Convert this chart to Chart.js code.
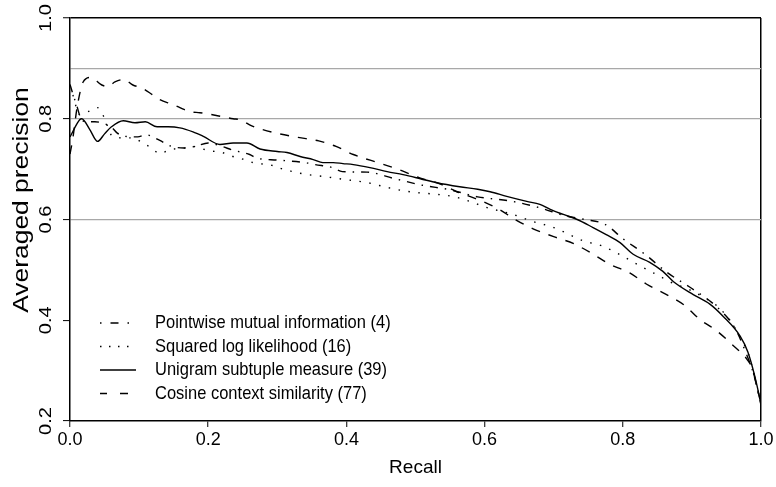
<!DOCTYPE html>
<html>
<head>
<meta charset="utf-8">
<script src="https://cdn.jsdelivr.net/npm/chart.js@4.4.0/dist/chart.umd.min.js"></script>
<style>html,body{margin:0;background:#fff}</style>
</head>
<body>
<canvas id="prChart" width="776" height="487"></canvas>
<script>
const FONT = "'Liberation Sans', Arial, sans-serif";

const seriesNames = [
    "Pointwise mutual information (4)",
    "Squared log likelihood (16)",
    "Unigram subtuple measure (39)",
    "Cosine context similarity (77)"
];

// recall / averaged precision
const pmiRecall = [0, 0.004, 0.01, 0.016, 0.025, 0.036, 0.05, 0.061, 0.068, 0.08, 0.098, 0.11, 0.13, 0.145, 0.165, 0.181, 0.2, 0.22, 0.235, 0.26, 0.27, 0.3, 0.34, 0.355, 0.38, 0.394, 0.43, 0.47, 0.51, 0.55, 0.59, 0.636, 0.678, 0.718, 0.745, 0.775, 0.8, 0.832, 0.865, 0.9, 0.934, 0.962, 0.978, 0.99, 1.0];
const pmiPrecision = [0.868, 0.85, 0.825, 0.80, 0.794, 0.794, 0.79, 0.782, 0.772, 0.765, 0.764, 0.768, 0.757, 0.746, 0.742, 0.745, 0.752, 0.745, 0.738, 0.729, 0.722, 0.718, 0.713, 0.709, 0.703, 0.695, 0.694, 0.681, 0.668, 0.659, 0.645, 0.637, 0.624, 0.607, 0.60, 0.59, 0.562, 0.531, 0.494, 0.463, 0.429, 0.385, 0.336, 0.29, 0.232];

const sqRecall = [0, 0.004, 0.014, 0.026, 0.04, 0.049, 0.061, 0.077, 0.091, 0.105, 0.117, 0.13, 0.145, 0.162, 0.178, 0.2, 0.22, 0.236, 0.25, 0.265, 0.294, 0.308, 0.323, 0.34, 0.369, 0.4, 0.431, 0.461, 0.492, 0.522, 0.553, 0.583, 0.598, 0.641, 0.67, 0.7, 0.729, 0.742, 0.771, 0.8, 0.826, 0.854, 0.867, 0.896, 0.915, 0.935, 0.955, 0.97, 0.982, 0.99, 1.0];
const sqPrecision = [0.866, 0.848, 0.808, 0.814, 0.822, 0.804, 0.766, 0.762, 0.762, 0.752, 0.743, 0.731, 0.739, 0.741, 0.745, 0.737, 0.733, 0.725, 0.72, 0.713, 0.707, 0.70, 0.695, 0.69, 0.685, 0.679, 0.673, 0.663, 0.655, 0.651, 0.646, 0.634, 0.626, 0.61, 0.596, 0.584, 0.566, 0.558, 0.547, 0.527, 0.507, 0.487, 0.477, 0.461, 0.447, 0.43, 0.40, 0.366, 0.332, 0.292, 0.232];

const uniRecall = [0, 0.014, 0.017, 0.028, 0.04, 0.05, 0.06, 0.077, 0.094, 0.109, 0.126, 0.142, 0.159, 0.178, 0.193, 0.217, 0.236, 0.256, 0.275, 0.30, 0.314, 0.333, 0.352, 0.366, 0.381, 0.395, 0.41, 0.434, 0.459, 0.482, 0.507, 0.531, 0.564, 0.59, 0.608, 0.632, 0.661, 0.68, 0.695, 0.714, 0.734, 0.757, 0.776, 0.796, 0.815, 0.839, 0.858, 0.873, 0.902, 0.926, 0.945, 0.97, 0.981, 0.991, 1.0];
const uniPrecision = [0.764, 0.798, 0.80, 0.78, 0.755, 0.77, 0.784, 0.796, 0.792, 0.794, 0.784, 0.784, 0.782, 0.774, 0.765, 0.749, 0.752, 0.752, 0.74, 0.735, 0.733, 0.725, 0.719, 0.713, 0.713, 0.711, 0.709, 0.703, 0.695, 0.689, 0.681, 0.673, 0.665, 0.66, 0.655, 0.646, 0.636, 0.63, 0.62, 0.61, 0.60, 0.584, 0.57, 0.554, 0.531, 0.515, 0.497, 0.477, 0.451, 0.432, 0.408, 0.368, 0.337, 0.289, 0.234];

const cosRecall = [0, 0.004, 0.01, 0.019, 0.03, 0.046, 0.055, 0.065, 0.078, 0.091, 0.104, 0.119, 0.13, 0.149, 0.159, 0.174, 0.188, 0.21, 0.236, 0.246, 0.263, 0.275, 0.30, 0.33, 0.36, 0.385, 0.41, 0.45, 0.48, 0.505, 0.535, 0.56, 0.586, 0.62, 0.644, 0.671, 0.70, 0.729, 0.756, 0.78, 0.81, 0.834, 0.862, 0.889, 0.912, 0.935, 0.958, 0.98, 0.987, 1.0];
const cosPrecision = [0.73, 0.76, 0.82, 0.873, 0.882, 0.867, 0.864, 0.873, 0.878, 0.867, 0.861, 0.848, 0.838, 0.828, 0.822, 0.814, 0.812, 0.807, 0.80, 0.798, 0.786, 0.78, 0.771, 0.763, 0.756, 0.745, 0.729, 0.711, 0.697, 0.683, 0.671, 0.655, 0.642, 0.621, 0.60, 0.581, 0.566, 0.552, 0.532, 0.512, 0.494, 0.472, 0.452, 0.43, 0.401, 0.38, 0.352, 0.322, 0.305, 0.234];

const xTickStep = 0.2;
const yTickValues = [0.2, 0.4, 0.6, 0.8, 0.9, 1.0];
const yTickLabels = [0.2, 0.4, 0.6, 0.8, 1.0];
const yGridValues = [0.6, 0.8, 0.9];
const xTitle = "Recall";
const yTitle = "Averaged precision";

function pts(xs, ys) { return xs.map((x, i) => ({ x: x, y: ys[i] })); }
const near = (a, b) => Math.abs(a - b) < 1e-6;

// rotated y labels + y title + legend box inside the plot
const overlay = {
    id: "overlay",
    afterDraw(chart) {
        const ctx = chart.ctx, ys = chart.scales.y;
        ctx.save();
        ctx.fillStyle = "#000";
        ctx.textAlign = "center";
        ctx.textBaseline = "middle";
        ctx.font = "17px " + FONT;
        yTickLabels.forEach(v => {
            ctx.save();
            ctx.translate(46, ys.getPixelForValue(v));
            ctx.rotate(-Math.PI / 2);
            ctx.scale(1.18, 1);
            ctx.fillText(v.toFixed(1), 0, 0);
            ctx.restore();
        });
        ctx.save();
        ctx.translate(22, 200);
        ctx.rotate(-Math.PI / 2);
        ctx.scale(1.2, 1);
        ctx.font = "22px " + FONT;
        ctx.fillText(yTitle, 0, 0);
        ctx.restore();

        ctx.textAlign = "left";
        ctx.font = "16.5px " + FONT;
        chart.data.datasets.forEach((ds, i) => {
            const ly = 323 + i * 23.5;
            ctx.save();
            ctx.strokeStyle = ds.borderColor;
            ctx.lineWidth = ds.borderWidth;
            ctx.setLineDash(ds.legendDash);
            ctx.beginPath();
            ctx.moveTo(100, ly);
            ctx.lineTo(136, ly);
            ctx.stroke();
            ctx.restore();
            ctx.save();
            ctx.translate(155, ly);
            ctx.scale(1, 1.12);
            ctx.fillText(ds.label, 0, 0);
            ctx.restore();
        });
        ctx.restore();
    }
};

function line(label, xs, ys, dash, legendDash) {
    return {
        label: label,
        data: pts(xs, ys),
        showLine: true,
        borderColor: "#000",
        borderWidth: 1.4,
        borderDash: dash,
        legendDash: legendDash,
        pointRadius: 0,
        fill: false,
        cubicInterpolationMode: "monotone"
    };
}

new Chart(document.getElementById("prChart"), {
    type: "scatter",
    data: {
        datasets: [
            line(seriesNames[0], pmiRecall, pmiPrecision, [8, 7, 1.5, 7], [1.5, 9, 8, 9, 1.5, 20]),
            line(seriesNames[1], sqRecall, sqPrecision, [1.5, 8.5], [1.5, 7.5]),
            line(seriesNames[2], uniRecall, uniPrecision, [], []),
            line(seriesNames[3], cosRecall, cosPrecision, [9, 9], [7, 13, 8, 20])
        ]
    },
    options: {
        responsive: false,
        animation: false,
        layout: { padding: { top: 18, right: 15, left: 0, bottom: 0 } },
        plugins: { legend: { display: false }, tooltip: { enabled: false } },
        scales: {
            x: {
                type: "linear",
                min: 0,
                max: 1,
                ticks: {
                    stepSize: xTickStep,
                    color: "#000",
                    font: { family: FONT, size: 18 },
                    padding: 2,
                    maxRotation: 0,
                    callback: v => v.toFixed(1)
                },
                grid: {
                    color: c => (c.tick && near(c.tick.value, 1) ? "#000" : "rgba(0,0,0,0)"),
                    lineWidth: 1.5,
                    tickColor: "#000",
                    tickWidth: 1,
                    tickLength: 6
                },
                border: { color: "#000", width: 1.5 },
                title: {
                    display: true,
                    text: xTitle,
                    color: "#000",
                    font: { family: FONT, size: 19 },
                    padding: { top: 0, bottom: 8 }
                },
                afterFit: s => { s.height = 66; }
            },
            y: {
                type: "linear",
                min: 0.2,
                max: 1.0,
                afterBuildTicks: s => { s.ticks = yTickValues.map(v => ({ value: v })); },
                ticks: { display: false },
                grid: {
                    color: c => {
                        const v = c.tick ? c.tick.value : 0;
                        if (near(v, 1)) return "#000";
                        return yGridValues.some(g => near(g, v)) ? "#a8a8a8" : "rgba(0,0,0,0)";
                    },
                    lineWidth: c => (c.tick && near(c.tick.value, 1) ? 1.5 : 1.2),
                    tickColor: c => (c.tick && near(c.tick.value, 0.9) ? "rgba(0,0,0,0)" : "#000"),
                    tickWidth: 1,
                    tickLength: 7
                },
                border: { color: "#000", width: 1.5 },
                afterFit: s => { s.width = 70; }
            }
        }
    },
    plugins: [overlay]
});
</script>
</body>
</html>
